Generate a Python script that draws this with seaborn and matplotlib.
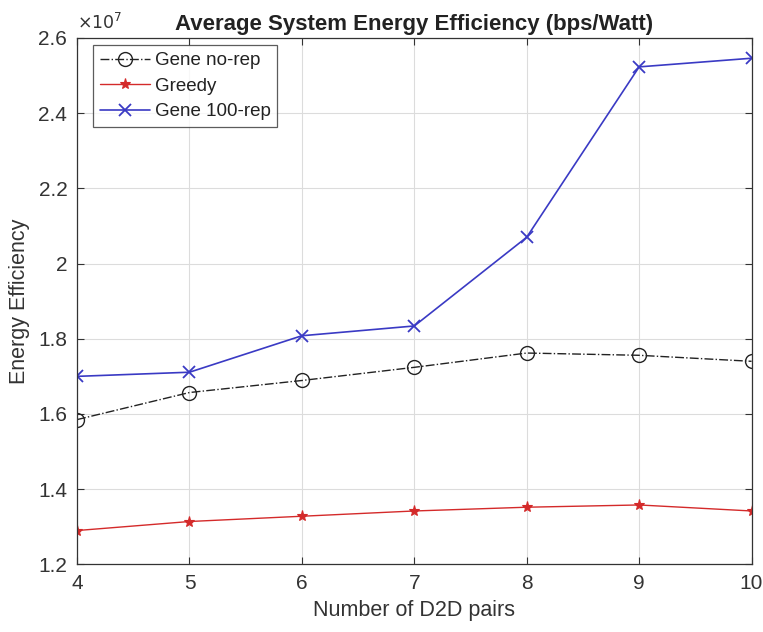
import matplotlib
matplotlib.use("Agg")
import matplotlib.pyplot as plt
from matplotlib.ticker import FuncFormatter
import seaborn as sns
import pandas as pd

# Energy efficiency (bps/Watt) versus the number of D2D pairs
d2d_pairs = [4, 5, 6, 7, 8, 9, 10]
gene_no_rep = [1.585e7, 1.657e7, 1.689e7, 1.724e7, 1.762e7, 1.756e7, 1.740e7]
greedy = [1.290e7, 1.314e7, 1.328e7, 1.342e7, 1.352e7, 1.358e7, 1.342e7]
gene_100_rep = [1.700e7, 1.711e7, 1.808e7, 1.834e7, 2.070e7, 2.523e7, 2.546e7]

y_ticks = [1.2e7, 1.4e7, 1.6e7, 1.8e7, 2.0e7, 2.2e7, 2.4e7, 2.6e7]

sns.set_theme(style="white")
plt.rcParams["font.family"] = ["Liberation Sans", "DejaVu Sans"]

df = pd.DataFrame({
    "pairs": d2d_pairs,
    "Gene no-rep": gene_no_rep,
    "Greedy": greedy,
    "Gene 100-rep": gene_100_rep,
})

fig = plt.figure(figsize=(7.63, 6.32), dpi=100)
ax = fig.add_axes([0.101, 0.107, 0.884, 0.833])

sns.lineplot(data=df, x="pairs", y="Gene no-rep", ax=ax, color="#222222",
             linestyle="-.", linewidth=1.0, marker="o", markersize=10,
             markerfacecolor="none", markeredgecolor="#222222",
             markeredgewidth=1.0, label="Gene no-rep")
sns.lineplot(data=df, x="pairs", y="Greedy", ax=ax, color="#d42a2a",
             linestyle="-", linewidth=1.0, marker="*", markersize=8,
             markerfacecolor="#d42a2a", markeredgecolor="#d42a2a",
             markeredgewidth=0.8, label="Greedy")
sns.lineplot(data=df, x="pairs", y="Gene 100-rep", ax=ax, color="#3a3ac4",
             linestyle="-", linewidth=1.2, marker="x", markersize=9,
             markeredgecolor="#3a3ac4", markeredgewidth=1.3,
             label="Gene 100-rep")

ax.set_xlim(4, 10)
ax.set_ylim(1.2e7, 2.6e7)
ax.set_xticks(d2d_pairs)
ax.set_yticks(y_ticks)
ax.yaxis.set_major_formatter(FuncFormatter(lambda v, p: f"{v / 1e7:g}"))

ax.grid(True, color="#dcdcdc", linewidth=0.8)
for s in ax.spines.values():
    s.set_color("#333333")
    s.set_linewidth(0.9)
ax.tick_params(axis="both", direction="in", length=5, width=0.8,
               colors="#333333", labelcolor="#333333", labelsize=15,
               top=True, right=True, bottom=True, left=True, pad=7)

ax.text(0.0, 1.012, r"$\times 10^{7}$", transform=ax.transAxes,
        fontsize=12.5, color="#333333", ha="left", va="bottom")

ax.set_title("Average System Energy Efficiency (bps/Watt)", fontsize=16,
             fontweight="bold", color="#222222", pad=6)
ax.set_xlabel("Number of D2D pairs", fontsize=15.5, color="#333333", labelpad=5)
ax.set_ylabel("Energy Efficiency", fontsize=15.5, color="#333333", labelpad=6)

leg = ax.legend(loc="upper left", fontsize=13.5, frameon=True, fancybox=False,
                borderpad=0.35, labelspacing=0.45, handlelength=2.7,
                handletextpad=0.25, borderaxespad=0.4,
                bbox_to_anchor=(0.0125, 1.0))
leg.get_frame().set_edgecolor("#333333")
leg.get_frame().set_linewidth(0.9)
for t in leg.get_texts():
    t.set_color("#222222")

fig.savefig("out.png", dpi=100)
